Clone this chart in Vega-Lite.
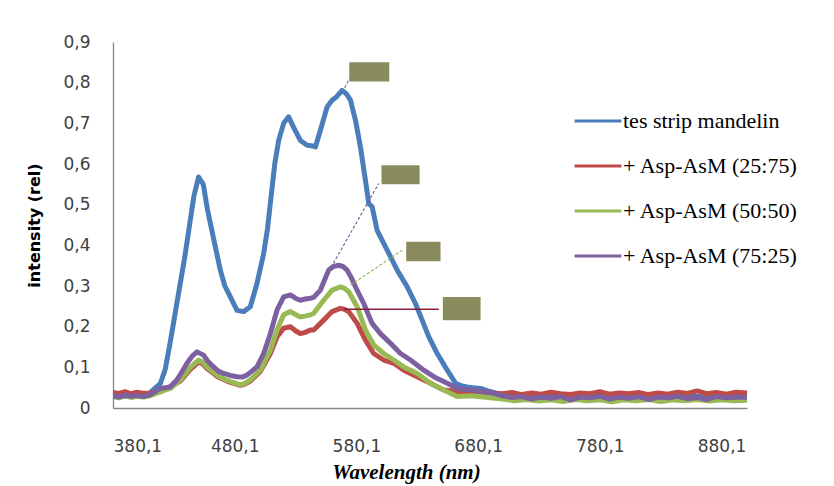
{
"$schema": "https://vega.github.io/schema/vega-lite/v6.json",
"width": 634, "height": 366,
"autosize": {"type": "none"},
"padding": {"left": 113, "top": 42, "right": 87, "bottom": 78},
"background": "white",
"config": {"view": {"stroke": null},
 "axis": {"grid": false, "ticks": false, "domainColor": "#868686", "domainWidth": 1.3, "labelFont": "DejaVu Sans", "labelFontSize": 17, "labelColor": "#404040"}},
"datasets": {
"spectra": [
{"s":"tes strip mandelin","w":380.3,"i":0.030},{"s":"tes strip mandelin","w":385,"i":0.033},{"s":"tes strip mandelin","w":390,"i":0.028},{"s":"tes strip mandelin","w":395,"i":0.032},{"s":"tes strip mandelin","w":400,"i":0.030},{"s":"tes strip mandelin","w":405,"i":0.034},{"s":"tes strip mandelin","w":410,"i":0.036},{"s":"tes strip mandelin","w":413.2,"i":0.045},{"s":"tes strip mandelin","w":419,"i":0.06},{"s":"tes strip mandelin","w":423,"i":0.095},{"s":"tes strip mandelin","w":427,"i":0.16},{"s":"tes strip mandelin","w":431,"i":0.23},{"s":"tes strip mandelin","w":435,"i":0.30},{"s":"tes strip mandelin","w":439,"i":0.37},{"s":"tes strip mandelin","w":443,"i":0.45},{"s":"tes strip mandelin","w":446.5,"i":0.52},{"s":"tes strip mandelin","w":450.4,"i":0.568},{"s":"tes strip mandelin","w":454.3,"i":0.55},{"s":"tes strip mandelin","w":457.6,"i":0.49},{"s":"tes strip mandelin","w":462.5,"i":0.42},{"s":"tes strip mandelin","w":468.3,"i":0.339},{"s":"tes strip mandelin","w":472,"i":0.30},{"s":"tes strip mandelin","w":476.5,"i":0.273},{"s":"tes strip mandelin","w":482,"i":0.24},{"s":"tes strip mandelin","w":487.4,"i":0.237},{"s":"tes strip mandelin","w":492.9,"i":0.249},{"s":"tes strip mandelin","w":498.4,"i":0.306},{"s":"tes strip mandelin","w":503.9,"i":0.38},{"s":"tes strip mandelin","w":507,"i":0.44},{"s":"tes strip mandelin","w":510,"i":0.52},{"s":"tes strip mandelin","w":513,"i":0.60},{"s":"tes strip mandelin","w":516.2,"i":0.658},{"s":"tes strip mandelin","w":520.3,"i":0.70},{"s":"tes strip mandelin","w":524.4,"i":0.716},{"s":"tes strip mandelin","w":528.5,"i":0.69},{"s":"tes strip mandelin","w":534,"i":0.658},{"s":"tes strip mandelin","w":539.6,"i":0.646},{"s":"tes strip mandelin","w":543,"i":0.645},{"s":"tes strip mandelin","w":546.4,"i":0.642},{"s":"tes strip mandelin","w":550.5,"i":0.683},{"s":"tes strip mandelin","w":556,"i":0.74},{"s":"tes strip mandelin","w":560.1,"i":0.757},{"s":"tes strip mandelin","w":563.7,"i":0.765},{"s":"tes strip mandelin","w":568.3,"i":0.781},{"s":"tes strip mandelin","w":572,"i":0.772},{"s":"tes strip mandelin","w":575.2,"i":0.757},{"s":"tes strip mandelin","w":579.3,"i":0.708},{"s":"tes strip mandelin","w":583.4,"i":0.642},{"s":"tes strip mandelin","w":587.5,"i":0.56},{"s":"tes strip mandelin","w":590.2,"i":0.503},{"s":"tes strip mandelin","w":593,"i":0.495},{"s":"tes strip mandelin","w":597.1,"i":0.437},{"s":"tes strip mandelin","w":599.8,"i":0.421},{"s":"tes strip mandelin","w":606.7,"i":0.38},{"s":"tes strip mandelin","w":613.6,"i":0.339},{"s":"tes strip mandelin","w":621.8,"i":0.298},{"s":"tes strip mandelin","w":628.6,"i":0.257},{"s":"tes strip mandelin","w":634.1,"i":0.216},{"s":"tes strip mandelin","w":639.6,"i":0.175},{"s":"tes strip mandelin","w":646.5,"i":0.134},{"s":"tes strip mandelin","w":654.7,"i":0.093},{"s":"tes strip mandelin","w":661.5,"i":0.061},{"s":"tes strip mandelin","w":666,"i":0.055},{"s":"tes strip mandelin","w":671.1,"i":0.052},{"s":"tes strip mandelin","w":676,"i":0.05},{"s":"tes strip mandelin","w":682.1,"i":0.048},{"s":"tes strip mandelin","w":688,"i":0.042},{"s":"tes strip mandelin","w":695.8,"i":0.036},{"s":"tes strip mandelin","w":705,"i":0.032},{"s":"tes strip mandelin","w":715,"i":0.028},{"s":"tes strip mandelin","w":725,"i":0.030},{"s":"tes strip mandelin","w":735,"i":0.026},{"s":"tes strip mandelin","w":745,"i":0.030},{"s":"tes strip mandelin","w":755,"i":0.027},{"s":"tes strip mandelin","w":765,"i":0.031},{"s":"tes strip mandelin","w":775,"i":0.028},{"s":"tes strip mandelin","w":785,"i":0.030},{"s":"tes strip mandelin","w":795,"i":0.026},{"s":"tes strip mandelin","w":805,"i":0.031},{"s":"tes strip mandelin","w":815,"i":0.029},{"s":"tes strip mandelin","w":825,"i":0.027},{"s":"tes strip mandelin","w":835,"i":0.032},{"s":"tes strip mandelin","w":845,"i":0.028},{"s":"tes strip mandelin","w":855,"i":0.030},{"s":"tes strip mandelin","w":865,"i":0.027},{"s":"tes strip mandelin","w":875,"i":0.031},{"s":"tes strip mandelin","w":885,"i":0.028},{"s":"tes strip mandelin","w":895,"i":0.030},{"s":"tes strip mandelin","w":901,"i":0.029},

{"s":"+ Asp-AsM (25:75)","w":380.3,"i":0.038},{"s":"+ Asp-AsM (25:75)","w":385,"i":0.036},{"s":"+ Asp-AsM (25:75)","w":390,"i":0.040},{"s":"+ Asp-AsM (25:75)","w":395,"i":0.035},{"s":"+ Asp-AsM (25:75)","w":400,"i":0.039},{"s":"+ Asp-AsM (25:75)","w":405,"i":0.036},{"s":"+ Asp-AsM (25:75)","w":410.7,"i":0.037},{"s":"+ Asp-AsM (25:75)","w":419,"i":0.040},{"s":"+ Asp-AsM (25:75)","w":427.1,"i":0.052},{"s":"+ Asp-AsM (25:75)","w":435.4,"i":0.066},{"s":"+ Asp-AsM (25:75)","w":443.6,"i":0.095},{"s":"+ Asp-AsM (25:75)","w":450.4,"i":0.113},{"s":"+ Asp-AsM (25:75)","w":454,"i":0.108},{"s":"+ Asp-AsM (25:75)","w":457.3,"i":0.097},{"s":"+ Asp-AsM (25:75)","w":462,"i":0.087},{"s":"+ Asp-AsM (25:75)","w":465.5,"i":0.078},{"s":"+ Asp-AsM (25:75)","w":471,"i":0.070},{"s":"+ Asp-AsM (25:75)","w":476.5,"i":0.063},{"s":"+ Asp-AsM (25:75)","w":484.7,"i":0.056},{"s":"+ Asp-AsM (25:75)","w":488,"i":0.058},{"s":"+ Asp-AsM (25:75)","w":492.9,"i":0.066},{"s":"+ Asp-AsM (25:75)","w":501.2,"i":0.090},{"s":"+ Asp-AsM (25:75)","w":509.4,"i":0.134},{"s":"+ Asp-AsM (25:75)","w":514.9,"i":0.175},{"s":"+ Asp-AsM (25:75)","w":520.3,"i":0.196},{"s":"+ Asp-AsM (25:75)","w":525.8,"i":0.200},{"s":"+ Asp-AsM (25:75)","w":530,"i":0.190},{"s":"+ Asp-AsM (25:75)","w":534,"i":0.183},{"s":"+ Asp-AsM (25:75)","w":538,"i":0.186},{"s":"+ Asp-AsM (25:75)","w":542.3,"i":0.192},{"s":"+ Asp-AsM (25:75)","w":545,"i":0.192},{"s":"+ Asp-AsM (25:75)","w":553.2,"i":0.216},{"s":"+ Asp-AsM (25:75)","w":560.1,"i":0.237},{"s":"+ Asp-AsM (25:75)","w":566.9,"i":0.245},{"s":"+ Asp-AsM (25:75)","w":570,"i":0.243},{"s":"+ Asp-AsM (25:75)","w":573.8,"i":0.237},{"s":"+ Asp-AsM (25:75)","w":580.7,"i":0.208},{"s":"+ Asp-AsM (25:75)","w":587.5,"i":0.167},{"s":"+ Asp-AsM (25:75)","w":594.3,"i":0.134},{"s":"+ Asp-AsM (25:75)","w":602.5,"i":0.118},{"s":"+ Asp-AsM (25:75)","w":610.8,"i":0.110},{"s":"+ Asp-AsM (25:75)","w":619,"i":0.093},{"s":"+ Asp-AsM (25:75)","w":630,"i":0.077},{"s":"+ Asp-AsM (25:75)","w":640.9,"i":0.061},{"s":"+ Asp-AsM (25:75)","w":651.9,"i":0.044},{"s":"+ Asp-AsM (25:75)","w":665,"i":0.040},{"s":"+ Asp-AsM (25:75)","w":680,"i":0.038},{"s":"+ Asp-AsM (25:75)","w":690,"i":0.037},{"s":"+ Asp-AsM (25:75)","w":700,"i":0.035},{"s":"+ Asp-AsM (25:75)","w":708,"i":0.038},{"s":"+ Asp-AsM (25:75)","w":716,"i":0.033},{"s":"+ Asp-AsM (25:75)","w":724,"i":0.037},{"s":"+ Asp-AsM (25:75)","w":732,"i":0.034},{"s":"+ Asp-AsM (25:75)","w":740,"i":0.039},{"s":"+ Asp-AsM (25:75)","w":748,"i":0.035},{"s":"+ Asp-AsM (25:75)","w":756,"i":0.033},{"s":"+ Asp-AsM (25:75)","w":764,"i":0.037},{"s":"+ Asp-AsM (25:75)","w":772,"i":0.035},{"s":"+ Asp-AsM (25:75)","w":780,"i":0.040},{"s":"+ Asp-AsM (25:75)","w":788,"i":0.034},{"s":"+ Asp-AsM (25:75)","w":796,"i":0.037},{"s":"+ Asp-AsM (25:75)","w":804,"i":0.035},{"s":"+ Asp-AsM (25:75)","w":812,"i":0.038},{"s":"+ Asp-AsM (25:75)","w":820,"i":0.033},{"s":"+ Asp-AsM (25:75)","w":828,"i":0.037},{"s":"+ Asp-AsM (25:75)","w":836,"i":0.034},{"s":"+ Asp-AsM (25:75)","w":844,"i":0.039},{"s":"+ Asp-AsM (25:75)","w":852,"i":0.036},{"s":"+ Asp-AsM (25:75)","w":860,"i":0.042},{"s":"+ Asp-AsM (25:75)","w":868,"i":0.035},{"s":"+ Asp-AsM (25:75)","w":876,"i":0.038},{"s":"+ Asp-AsM (25:75)","w":884,"i":0.034},{"s":"+ Asp-AsM (25:75)","w":892,"i":0.039},{"s":"+ Asp-AsM (25:75)","w":901,"i":0.037},

{"s":"+ Asp-AsM (50:50)","w":380.3,"i":0.028},{"s":"+ Asp-AsM (50:50)","w":385,"i":0.025},{"s":"+ Asp-AsM (50:50)","w":390,"i":0.030},{"s":"+ Asp-AsM (50:50)","w":395,"i":0.026},{"s":"+ Asp-AsM (50:50)","w":400,"i":0.029},{"s":"+ Asp-AsM (50:50)","w":405,"i":0.027},{"s":"+ Asp-AsM (50:50)","w":410.7,"i":0.030},{"s":"+ Asp-AsM (50:50)","w":419,"i":0.040},{"s":"+ Asp-AsM (50:50)","w":427.1,"i":0.048},{"s":"+ Asp-AsM (50:50)","w":435.4,"i":0.069},{"s":"+ Asp-AsM (50:50)","w":443.6,"i":0.100},{"s":"+ Asp-AsM (50:50)","w":450.4,"i":0.118},{"s":"+ Asp-AsM (50:50)","w":454,"i":0.112},{"s":"+ Asp-AsM (50:50)","w":457.3,"i":0.100},{"s":"+ Asp-AsM (50:50)","w":462,"i":0.090},{"s":"+ Asp-AsM (50:50)","w":465.5,"i":0.081},{"s":"+ Asp-AsM (50:50)","w":471,"i":0.072},{"s":"+ Asp-AsM (50:50)","w":476.5,"i":0.065},{"s":"+ Asp-AsM (50:50)","w":484.7,"i":0.057},{"s":"+ Asp-AsM (50:50)","w":488,"i":0.060},{"s":"+ Asp-AsM (50:50)","w":492.9,"i":0.069},{"s":"+ Asp-AsM (50:50)","w":501.2,"i":0.093},{"s":"+ Asp-AsM (50:50)","w":509.4,"i":0.142},{"s":"+ Asp-AsM (50:50)","w":514.9,"i":0.192},{"s":"+ Asp-AsM (50:50)","w":520.3,"i":0.229},{"s":"+ Asp-AsM (50:50)","w":525.8,"i":0.237},{"s":"+ Asp-AsM (50:50)","w":530,"i":0.230},{"s":"+ Asp-AsM (50:50)","w":534,"i":0.224},{"s":"+ Asp-AsM (50:50)","w":538,"i":0.226},{"s":"+ Asp-AsM (50:50)","w":542.3,"i":0.229},{"s":"+ Asp-AsM (50:50)","w":545,"i":0.233},{"s":"+ Asp-AsM (50:50)","w":553.2,"i":0.265},{"s":"+ Asp-AsM (50:50)","w":560.1,"i":0.290},{"s":"+ Asp-AsM (50:50)","w":566.9,"i":0.298},{"s":"+ Asp-AsM (50:50)","w":570,"i":0.295},{"s":"+ Asp-AsM (50:50)","w":573.8,"i":0.286},{"s":"+ Asp-AsM (50:50)","w":580.7,"i":0.249},{"s":"+ Asp-AsM (50:50)","w":587.5,"i":0.192},{"s":"+ Asp-AsM (50:50)","w":594.3,"i":0.155},{"s":"+ Asp-AsM (50:50)","w":602.5,"i":0.134},{"s":"+ Asp-AsM (50:50)","w":610.8,"i":0.118},{"s":"+ Asp-AsM (50:50)","w":619,"i":0.101},{"s":"+ Asp-AsM (50:50)","w":630,"i":0.085},{"s":"+ Asp-AsM (50:50)","w":640.9,"i":0.061},{"s":"+ Asp-AsM (50:50)","w":651.9,"i":0.044},{"s":"+ Asp-AsM (50:50)","w":662.9,"i":0.028},{"s":"+ Asp-AsM (50:50)","w":675,"i":0.030},{"s":"+ Asp-AsM (50:50)","w":690,"i":0.025},{"s":"+ Asp-AsM (50:50)","w":700,"i":0.022},{"s":"+ Asp-AsM (50:50)","w":710,"i":0.018},{"s":"+ Asp-AsM (50:50)","w":720,"i":0.021},{"s":"+ Asp-AsM (50:50)","w":730,"i":0.017},{"s":"+ Asp-AsM (50:50)","w":740,"i":0.020},{"s":"+ Asp-AsM (50:50)","w":750,"i":0.016},{"s":"+ Asp-AsM (50:50)","w":760,"i":0.021},{"s":"+ Asp-AsM (50:50)","w":770,"i":0.018},{"s":"+ Asp-AsM (50:50)","w":780,"i":0.020},{"s":"+ Asp-AsM (50:50)","w":790,"i":0.015},{"s":"+ Asp-AsM (50:50)","w":800,"i":0.020},{"s":"+ Asp-AsM (50:50)","w":810,"i":0.018},{"s":"+ Asp-AsM (50:50)","w":820,"i":0.021},{"s":"+ Asp-AsM (50:50)","w":830,"i":0.016},{"s":"+ Asp-AsM (50:50)","w":840,"i":0.020},{"s":"+ Asp-AsM (50:50)","w":850,"i":0.018},{"s":"+ Asp-AsM (50:50)","w":860,"i":0.021},{"s":"+ Asp-AsM (50:50)","w":870,"i":0.017},{"s":"+ Asp-AsM (50:50)","w":880,"i":0.020},{"s":"+ Asp-AsM (50:50)","w":890,"i":0.018},{"s":"+ Asp-AsM (50:50)","w":901,"i":0.019},

{"s":"+ Asp-AsM (75:25)","w":380.3,"i":0.030},{"s":"+ Asp-AsM (75:25)","w":385,"i":0.027},{"s":"+ Asp-AsM (75:25)","w":390,"i":0.032},{"s":"+ Asp-AsM (75:25)","w":395,"i":0.029},{"s":"+ Asp-AsM (75:25)","w":400,"i":0.031},{"s":"+ Asp-AsM (75:25)","w":405,"i":0.028},{"s":"+ Asp-AsM (75:25)","w":410.7,"i":0.033},{"s":"+ Asp-AsM (75:25)","w":419,"i":0.048},{"s":"+ Asp-AsM (75:25)","w":427.1,"i":0.052},{"s":"+ Asp-AsM (75:25)","w":432.6,"i":0.069},{"s":"+ Asp-AsM (75:25)","w":436,"i":0.085},{"s":"+ Asp-AsM (75:25)","w":440.9,"i":0.110},{"s":"+ Asp-AsM (75:25)","w":445,"i":0.127},{"s":"+ Asp-AsM (75:25)","w":449.1,"i":0.138},{"s":"+ Asp-AsM (75:25)","w":454.5,"i":0.130},{"s":"+ Asp-AsM (75:25)","w":458,"i":0.115},{"s":"+ Asp-AsM (75:25)","w":462.7,"i":0.101},{"s":"+ Asp-AsM (75:25)","w":467,"i":0.090},{"s":"+ Asp-AsM (75:25)","w":471,"i":0.085},{"s":"+ Asp-AsM (75:25)","w":476.5,"i":0.080},{"s":"+ Asp-AsM (75:25)","w":482,"i":0.077},{"s":"+ Asp-AsM (75:25)","w":486,"i":0.076},{"s":"+ Asp-AsM (75:25)","w":490.2,"i":0.081},{"s":"+ Asp-AsM (75:25)","w":494,"i":0.090},{"s":"+ Asp-AsM (75:25)","w":498.4,"i":0.101},{"s":"+ Asp-AsM (75:25)","w":503.9,"i":0.134},{"s":"+ Asp-AsM (75:25)","w":509.4,"i":0.183},{"s":"+ Asp-AsM (75:25)","w":514.9,"i":0.241},{"s":"+ Asp-AsM (75:25)","w":520.3,"i":0.273},{"s":"+ Asp-AsM (75:25)","w":525.8,"i":0.278},{"s":"+ Asp-AsM (75:25)","w":530,"i":0.270},{"s":"+ Asp-AsM (75:25)","w":534,"i":0.265},{"s":"+ Asp-AsM (75:25)","w":538,"i":0.268},{"s":"+ Asp-AsM (75:25)","w":542.3,"i":0.270},{"s":"+ Asp-AsM (75:25)","w":545,"i":0.272},{"s":"+ Asp-AsM (75:25)","w":550.5,"i":0.290},{"s":"+ Asp-AsM (75:25)","w":557.3,"i":0.339},{"s":"+ Asp-AsM (75:25)","w":561,"i":0.348},{"s":"+ Asp-AsM (75:25)","w":565.5,"i":0.351},{"s":"+ Asp-AsM (75:25)","w":569,"i":0.348},{"s":"+ Asp-AsM (75:25)","w":572.4,"i":0.339},{"s":"+ Asp-AsM (75:25)","w":576,"i":0.320},{"s":"+ Asp-AsM (75:25)","w":579.3,"i":0.298},{"s":"+ Asp-AsM (75:25)","w":586.1,"i":0.257},{"s":"+ Asp-AsM (75:25)","w":593,"i":0.208},{"s":"+ Asp-AsM (75:25)","w":599.8,"i":0.183},{"s":"+ Asp-AsM (75:25)","w":608.1,"i":0.159},{"s":"+ Asp-AsM (75:25)","w":616.3,"i":0.134},{"s":"+ Asp-AsM (75:25)","w":624.5,"i":0.118},{"s":"+ Asp-AsM (75:25)","w":635.4,"i":0.093},{"s":"+ Asp-AsM (75:25)","w":643.7,"i":0.077},{"s":"+ Asp-AsM (75:25)","w":654.7,"i":0.061},{"s":"+ Asp-AsM (75:25)","w":662.9,"i":0.048},{"s":"+ Asp-AsM (75:25)","w":676.6,"i":0.044},{"s":"+ Asp-AsM (75:25)","w":693,"i":0.036},{"s":"+ Asp-AsM (75:25)","w":700,"i":0.030},{"s":"+ Asp-AsM (75:25)","w":708,"i":0.026},{"s":"+ Asp-AsM (75:25)","w":716,"i":0.028},{"s":"+ Asp-AsM (75:25)","w":724,"i":0.022},{"s":"+ Asp-AsM (75:25)","w":732,"i":0.027},{"s":"+ Asp-AsM (75:25)","w":740,"i":0.024},{"s":"+ Asp-AsM (75:25)","w":748,"i":0.028},{"s":"+ Asp-AsM (75:25)","w":756,"i":0.020},{"s":"+ Asp-AsM (75:25)","w":764,"i":0.027},{"s":"+ Asp-AsM (75:25)","w":772,"i":0.025},{"s":"+ Asp-AsM (75:25)","w":780,"i":0.029},{"s":"+ Asp-AsM (75:25)","w":788,"i":0.022},{"s":"+ Asp-AsM (75:25)","w":796,"i":0.027},{"s":"+ Asp-AsM (75:25)","w":804,"i":0.024},{"s":"+ Asp-AsM (75:25)","w":812,"i":0.028},{"s":"+ Asp-AsM (75:25)","w":820,"i":0.021},{"s":"+ Asp-AsM (75:25)","w":828,"i":0.027},{"s":"+ Asp-AsM (75:25)","w":836,"i":0.025},{"s":"+ Asp-AsM (75:25)","w":844,"i":0.029},{"s":"+ Asp-AsM (75:25)","w":852,"i":0.023},{"s":"+ Asp-AsM (75:25)","w":860,"i":0.026},{"s":"+ Asp-AsM (75:25)","w":868,"i":0.021},{"s":"+ Asp-AsM (75:25)","w":876,"i":0.028},{"s":"+ Asp-AsM (75:25)","w":884,"i":0.025},{"s":"+ Asp-AsM (75:25)","w":892,"i":0.027},{"s":"+ Asp-AsM (75:25)","w":901,"i":0.026}
],
"leaders": [
{"s":"tes strip mandelin","w":568.6,"i":0.776,"w2":574.5,"i2":0.811},
{"s":"+ Asp-AsM (75:25)","w":561.2,"i":0.356,"w2":598.4,"i2":0.552},
{"s":"+ Asp-AsM (50:50)","w":575.2,"i":0.302,"w2":617.7,"i2":0.388},
{"s":"+ Asp-AsM (25:75)","w":569.7,"i":0.243,"w2":647.8,"i2":0.243}
],
"boxes": [
{"w":574.2,"w2":607.1,"i":0.803,"i2":0.850},
{"w":600.7,"w2":632.0,"i":0.550,"i2":0.597},
{"w":621.0,"w2":649.2,"i":0.361,"i2":0.409},
{"w":651.1,"w2":682.1,"i":0.216,"i2":0.273}
]
},
"encoding": {
 "x": {"field": "w", "type": "quantitative",
  "scale": {"domain": [380.1, 901], "nice": false, "zero": false},
  "axis": {"values": [380.1, 480.1, 580.1, 680.1, 780.1, 880.1], "labelExpr": "replace(format(datum.value, '.1f'), '.', ',')", "labelPadding": 30, "title": "Wavelength (nm)", "titleFont": "Liberation Serif", "titleFontSize": 21, "titleFontWeight": "bold", "titleFontStyle": "italic", "titleColor": "black", "titlePadding": 7, "titleX": 293}},
 "y": {"field": "i", "type": "quantitative",
  "scale": {"domain": [0, 0.9], "nice": false},
  "axis": {"values": [0, 0.1, 0.2, 0.3, 0.4, 0.5, 0.6, 0.7, 0.8, 0.9], "labelExpr": "datum.value == 0 ? '0' : replace(format(datum.value, '.1f'), '.', ',')", "labelPadding": 23, "title": "intensity (rel)", "titleFont": "DejaVu Sans", "titleFontSize": 16, "titleFontWeight": "bold", "titleColor": "black", "titlePadding": 20}}
},
"layer": [
 {"data": {"name": "spectra"},
  "mark": {"type": "line", "strokeWidth": 5, "strokeJoin": "round"},
  "encoding": {"color": {"field": "s", "type": "nominal",
   "scale": {"domain": ["tes strip mandelin", "+ Asp-AsM (25:75)", "+ Asp-AsM (50:50)", "+ Asp-AsM (75:25)"], "range": ["#4a7ebb", "#be4b48", "#98b954", "#7d60a0"]},
   "legend": {"orient": "none", "legendX": 460, "legendY": 54, "title": null, "padding": 0, "symbolType": "stroke", "symbolStrokeWidth": 3, "symbolSize": 2200, "labelFont": "Liberation Serif", "labelFontSize": 22, "labelColor": "black", "labelOffset": 0, "labelLimit": 400, "rowPadding": 9}}}},
 {"data": {"name": "leaders"},
  "transform": [{"filter": "datum.s != '+ Asp-AsM (25:75)'"}],
  "mark": {"type": "rule", "strokeWidth": 1.2, "strokeDash": [3, 2]},
  "encoding": {"x2": {"field": "w2"}, "y2": {"field": "i2"}, "color": {"field": "s", "type": "nominal", "legend": null}}},
 {"data": {"name": "leaders"},
  "transform": [{"filter": "datum.s == '+ Asp-AsM (25:75)'"}],
  "mark": {"type": "rule", "strokeWidth": 1.5, "color": "#8b1c3c"},
  "encoding": {"x2": {"field": "w2"}, "y2": {"field": "i2"}}},
 {"data": {"name": "boxes"},
  "mark": {"type": "rect", "fill": "#8a8b5c"},
  "encoding": {"x2": {"field": "w2"}, "y2": {"field": "i2"}}}
]
}
